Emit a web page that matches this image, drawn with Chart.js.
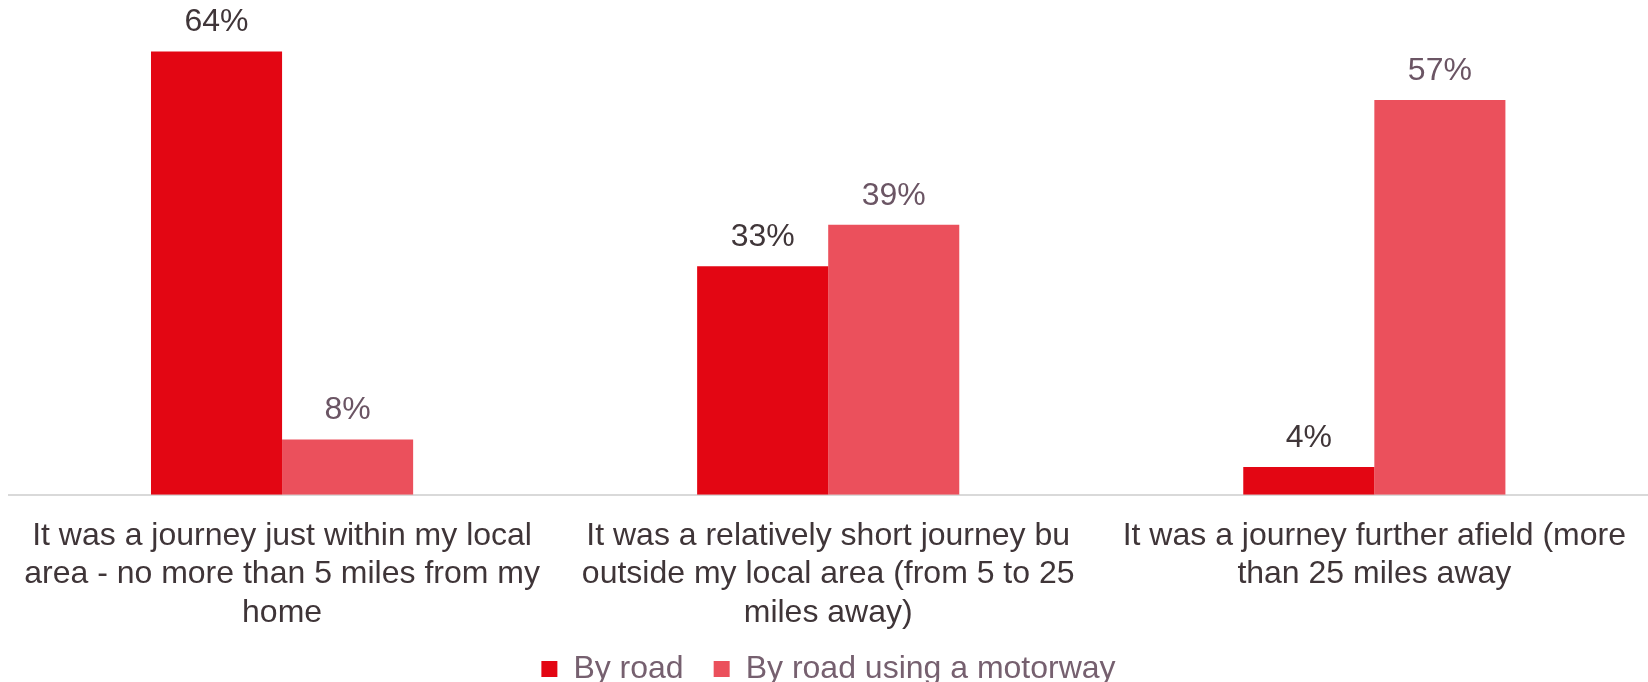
<!DOCTYPE html>
<html>
<head>
<meta charset="utf-8">
<script src="https://cdn.jsdelivr.net/npm/chart.js@4"></script>
<style>
  html, body { margin: 0; padding: 0; background: #fff; }
  #chart_container { width: 1648px; height: 682px; position: relative; }
</style>
</head>
<body>
<div id="chart_container"><canvas id="myChart"></canvas></div>
<script>
// categories (already split into lines like the original)
const categories = [
  ["It was a journey just within my local", "area - no more than 5 miles from my", "home"],
  ["It was a relatively short journey bu", "outside my local area (from 5 to 25", "miles away)"],
  ["It was a journey further afield (more", "than 25 miles away"]
];
const seriesNames = ["By road", "By road using a motorway"];
const byRoad = [64, 33, 4];
const byMotorway = [8, 39, 57];

const FONT = "'Liberation Sans', Arial, sans-serif";

// draws the % value above each bar
const valueLabels = {
  id: 'valueLabels',
  afterDatasetsDraw(chart) {
    const ctx = chart.ctx;
    ctx.save();
    ctx.font = '32px ' + FONT;
    ctx.textAlign = 'center';
    ctx.textBaseline = 'middle';
    chart.data.datasets.forEach((ds, i) => {
      const meta = chart.getDatasetMeta(i);
      ctx.fillStyle = i === 0 ? '#403639' : '#6B5564';
      meta.data.forEach((bar, j) => {
        ctx.fillText(ds.data[j] + '%', bar.x, bar.y - 29);
      });
    });
    ctx.restore();
  }
};

// legend padding is big for the horizontal gap between items,
// but that also pushes the row down - take the extra height back off
const EXTRA = 28;
const tightLegend = {
  id: 'tightLegend',
  beforeLayout(chart) {
    const lg = chart.legend;
    if (lg && !lg._tight) {
      const fit = lg.fit.bind(lg);
      const draw = lg.draw.bind(lg);
      lg.fit = function () {
        fit();
        this.height -= EXTRA;
      };
      lg.draw = function () {
        this.top -= EXTRA + 3;
        draw();
        this.top += EXTRA + 3;
      };
      lg._tight = true;
    }
  }
};

const ctx = document.getElementById('myChart').getContext('2d');
const myChart = new Chart(ctx, {
  type: 'bar',
  data: {
    labels: categories,
    datasets: [{
      label: seriesNames[0],
      data: byRoad,
      backgroundColor: '#E30613',
      borderWidth: 0
    }, {
      label: seriesNames[1],
      data: byMotorway,
      backgroundColor: '#EB505C',
      borderWidth: 0
    }]
  },
  options: {
    responsive: true,
    maintainAspectRatio: false,
    animation: false,
    categoryPercentage: 0.48,
    barPercentage: 1.0,
    layout: {
      padding: { left: 9, right: 0, top: 10, bottom: -16 }
    },
    scales: {
      x: {
        grid: { display: false, drawTicks: false },
        border: { display: true, color: '#D9D9D9', width: 2 },
        ticks: {
          color: '#3F3538',
          padding: 22,
          maxRotation: 0,
          autoSkip: false,
          font: { family: FONT, size: 32, lineHeight: 1.2 }
        }
      },
      y: {
        display: false,
        min: 0,
        max: 70
      }
    },
    plugins: {
      legend: {
        position: 'bottom',
        labels: {
          color: '#76606F',
          boxWidth: 16,
          boxHeight: 16,
          padding: 30,
          font: { family: FONT, size: 32 }
        }
      },
      tooltip: { enabled: false }
    }
  },
  plugins: [valueLabels, tightLegend]
});
</script>
</body>
</html>
